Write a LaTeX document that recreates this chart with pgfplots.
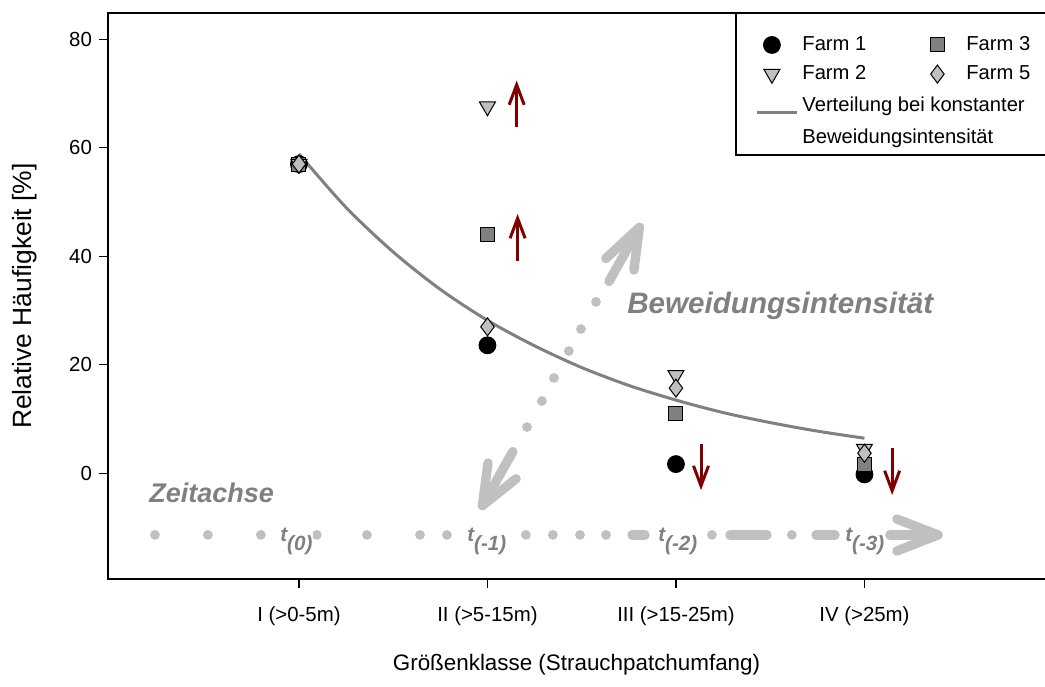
\documentclass[border=0pt]{standalone}
\usepackage{pgfplots}
\pgfplotsset{compat=1.18}
\usepackage{fontspec}
\setmainfont{Liberation Sans}
\usetikzlibrary{arrows.meta}
\definecolor{darkred}{RGB}{128,0,0}
\definecolor{lgray}{RGB}{192,192,192}
\definecolor{mgray}{RGB}{128,128,128}
\begin{document}
\begin{tikzpicture}
\begin{axis}[
  at={(54pt,53.5pt)}, anchor=south west,
  scale only axis, width=468.5pt, height=283pt,
  xmin=-0.013, xmax=4.958, ymin=-19.48, ymax=84.85,
  clip=false,
  axis line style={draw=none},
  xtick={1,2,3,4},
  xticklabels={I (>0-5m), II (>5-15m), III (>15-25m), IV (>25m)},
  ytick={0,20,40,60,80},
  tick align=outside, tick pos=left,
  major tick length=4.5pt,
  tick style={black, line width=0.65pt},
  ticklabel style={font=\fontsize{10.2}{12}\selectfont},
  xticklabel style={yshift=-6pt},
  /pgf/number format/assume math mode=true,
  xlabel={Größenklasse (Strauchpatchumfang)},
  ylabel={Relative Häufigkeit [\%]},
  every axis x label/.style={at={(axis description cs:0.5,-0.152)}, anchor=center, font=\fontsize{11.2}{13}\selectfont},
  every axis y label/.style={at={(axis description cs:-0.0886,0.5)}, rotate=90, anchor=center, font=\fontsize{13.2}{15}\selectfont},
  legend columns=2,
  legend cell align=left,
  legend style={draw=none, fill=none, inner sep=0pt, at={(rel axis cs:0.6905,0.9664)}, anchor=north west,
    font=\fontsize{10.1}{11.8}\selectfont, row sep=2pt,
    /tikz/every even column/.append style={column sep=26pt}},
  legend image code/.code={\path[draw=none,fill=none] (0pt,0pt) -- (20pt,0pt);\draw[mark repeat=2,mark phase=2,#1] plot coordinates {(0pt,0pt) (7.5pt,0pt) (20pt,0pt)};},
]
% axis frame (left, top, bottom)
\draw[black, line width=0.65pt] (rel axis cs:1.05,1) -- (rel axis cs:0,1) -- (rel axis cs:0,0) -- (rel axis cs:1.05,0);
% legend frame
\draw[black, line width=0.65pt] (rel axis cs:1.05,0.7491) -- (rel axis cs:0.6702,0.7491) -- (rel axis cs:0.6702,1);

% time axis (Zeitachse)
\pgfplotsinvokeforeach{0.236,0.517,0.798,1.095,1.361,1.642,1.785,2.204,2.347,2.491,2.629,3.191,3.615}{
  \fill[lgray] (axis cs:#1,-11.35) circle[radius=2.45pt];
}
\draw[lgray, line width=4.7pt, line cap=round] (axis cs:2.767,-11.35) -- (axis cs:2.836,-11.35);
\draw[lgray, line width=4.7pt, line cap=round] (axis cs:3.287,-11.35) -- (axis cs:3.483,-11.35);
\draw[lgray, line width=4.7pt, line cap=round] (axis cs:3.743,-11.35) -- (axis cs:3.844,-11.35);
\draw[lgray, line width=4.7pt, line cap=round] (axis cs:4.135,-11.35) -- (axis cs:4.390,-11.35);
\draw[lgray, line width=4.7pt, line cap=round, line join=round] (axis cs:4.172,-8.43) -- (axis cs:4.390,-11.35) -- (axis cs:4.172,-14.32);

% grazing-intensity axis (Beweidungsintensitaet)
\fill[lgray] (axis cs:2.210,8.53) circle[radius=2.45pt];
\fill[lgray] (axis cs:2.289,13.33) circle[radius=2.45pt];
\fill[lgray] (axis cs:2.353,17.57) circle[radius=2.45pt];
\fill[lgray] (axis cs:2.432,22.54) circle[radius=2.45pt];
\fill[lgray] (axis cs:2.496,26.6) circle[radius=2.45pt];
\fill[lgray] (axis cs:2.576,31.6) circle[radius=2.45pt];
\draw[lgray, line width=4.7pt, line cap=round] (axis cs:2.135,4.0) -- (axis cs:1.973,-5.95);
\draw[lgray, line width=4.7pt, line cap=round, line join=round] (axis cs:2.152,-1.01) -- (axis cs:1.973,-5.95) -- (axis cs:2.003,1.90);
\draw[lgray, line width=4.7pt, line cap=round] (axis cs:2.645,35.37) -- (axis cs:2.806,45.33);
\draw[lgray, line width=4.7pt, line cap=round, line join=round] (axis cs:2.628,39.6) -- (axis cs:2.806,45.33) -- (axis cs:2.777,37.47);

\node[anchor=base west, text=mgray, font=\fontsize{13.5}{16}\selectfont\bfseries\itshape, inner sep=0pt] at (axis cs:0.204,-5.47) {Zeitachse};
\node[anchor=base west, text=mgray, font=\fontsize{14.8}{17}\selectfont\bfseries\itshape, inner sep=0pt] at (axis cs:2.740,29.55) {Beweidungsintensität};

\node[anchor=base west, fill=white, inner sep=0.5pt, text=mgray, font=\fontsize{10.3}{12}\selectfont\bfseries\itshape] at (axis cs:0.894,-12.48) {t\raisebox{-4.5pt}{(0)}};
\node[anchor=base west, fill=white, inner sep=0.5pt, text=mgray, font=\fontsize{10.3}{12}\selectfont\bfseries\itshape] at (axis cs:1.886,-12.48) {t\raisebox{-4.5pt}{(-1)}};
\node[anchor=base west, fill=white, inner sep=0.5pt, text=mgray, font=\fontsize{10.3}{12}\selectfont\bfseries\itshape] at (axis cs:2.899,-12.48) {t\raisebox{-4.5pt}{(-2)}};
\node[anchor=base west, fill=white, inner sep=0.5pt, text=mgray, font=\fontsize{10.3}{12}\selectfont\bfseries\itshape] at (axis cs:3.891,-12.48) {t\raisebox{-4.5pt}{(-3)}};

% data
\addplot[only marks, mark=*, mark size=4.2pt, mark options={fill=black, draw=black, line width=0.5pt}]
  coordinates {(1,57) (2,23.6) (3,1.7) (4,-0.2)};
\addlegendentry{Farm 1}
\addplot[only marks, mark=square*, mark size=3.5pt, mark options={fill=mgray, draw=black, line width=0.5pt}]
  coordinates {(1,57) (2,44.05) (3,11.06) (4,1.6)};
\addlegendentry{Farm 3}
\addplot[only marks, mark=triangle*, mark size=4.6pt, mark options={rotate=180, fill=lgray, draw=black, line width=0.5pt}]
  coordinates {(1,57) (2,67.6) (3,18.1) (4,4.5)};
\addlegendentry{Farm 2}
\addplot[only marks, mark=diamond*, mark size=4.5pt, mark options={fill=lgray, draw=black, line width=0.5pt}]
  coordinates {(1,57) (2,27.0) (3,15.7) (4,3.7)};
\addlegendentry{Farm 5}
\addplot[mgray, line width=1.5pt, smooth, no marks]
  coordinates {(1,58.9) (1.25,49.0) (1.5,40.8) (1.75,33.9) (2,28.2) (2.25,23.5) (2.5,19.5) (2.75,16.2) (3,13.5) (3.25,11.2) (3.5,9.35) (3.75,7.78) (4,6.47)};
\addlegendentry{\makebox[0pt][l]{\begin{tabular}{@{}l@{}}Verteilung bei konstanter\\[4.5pt]Beweidungsintensität\end{tabular}}}

% trend arrows
\draw[darkred, line width=1.5pt, -{Straight Barb[length=10pt,width=7.5pt]}] (axis cs:2.155,63.9) -- (axis cs:2.155,72.4);
\draw[darkred, line width=1.5pt, -{Straight Barb[length=10pt,width=7.5pt]}] (axis cs:2.160,39.2) -- (axis cs:2.160,47.8);
\draw[darkred, line width=1.5pt, -{Straight Barb[length=10pt,width=7.5pt]}] (axis cs:3.133,5.4) -- (axis cs:3.133,-3.1);
\draw[darkred, line width=1.5pt, -{Straight Barb[length=10pt,width=7.5pt]}] (axis cs:4.147,4.6) -- (axis cs:4.147,-4.0);
\end{axis}
\pgfresetboundingbox
\path (0,0) rectangle (522.5pt,343pt);
\end{tikzpicture}
\end{document}
